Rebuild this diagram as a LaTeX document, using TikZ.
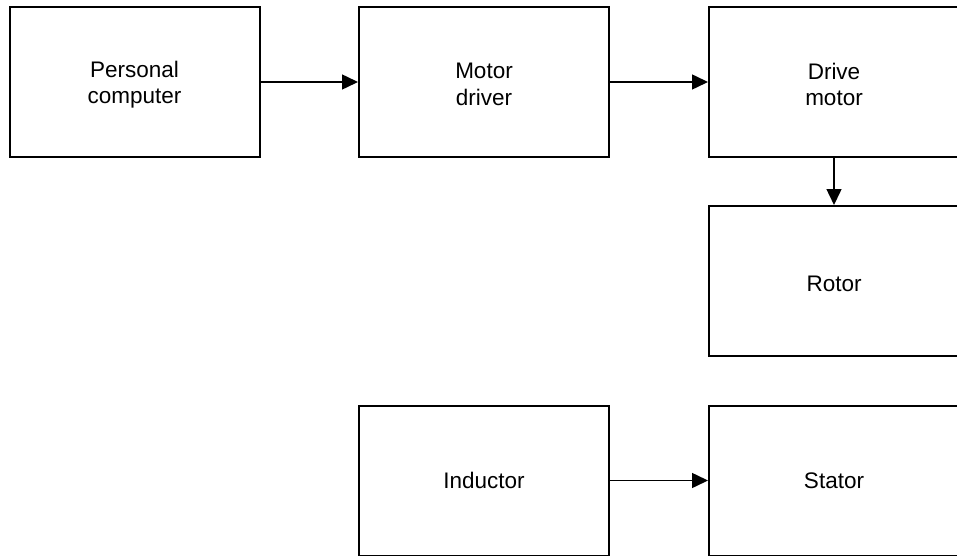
\documentclass[tikz,border=0pt]{standalone}
\usepackage{fontspec}
\setmainfont{Liberation Sans}
\usetikzlibrary{arrows.meta}
\newcommand\toppad[1]{\raisebox{0pt}[\dimexpr\height+5pt\relax]{#1}}
\begin{document}
\begin{tikzpicture}[x=1pt,y=-1pt,
  blk/.style={draw=black,line width=2pt,minimum width=250pt,minimum height=150pt,align=center,inner sep=0pt,font=\fontsize{22.5}{26.5}\selectfont},
  conn/.style={line width=1.5pt,-{Triangle[length=16pt,width=15pt]}}]
\useasboundingbox (0,0) rectangle (957,556);
\begin{scope}
\clip (0,0) rectangle (957,556);
\node[blk] (pc) at (134.5,82) {\toppad{Personal}\\computer};
\node[blk] (md) at (484,82) {\toppad{Motor}\\driver};
\node[blk] (dm) at (834,82) {\toppad{Drive}\\motor};
\node[blk] (ro) at (834,281) {\toppad{Rotor}};
\node[blk] (in) at (484,480.5) {Inductor};
\node[blk] (st) at (834,480.5) {Stator};
\draw[conn] (pc) -- (md);
\draw[conn] (md) -- (dm);
\draw[conn] (dm) -- (ro);
\draw[conn] (in) -- (st);
\end{scope}
\end{tikzpicture}
\end{document}
